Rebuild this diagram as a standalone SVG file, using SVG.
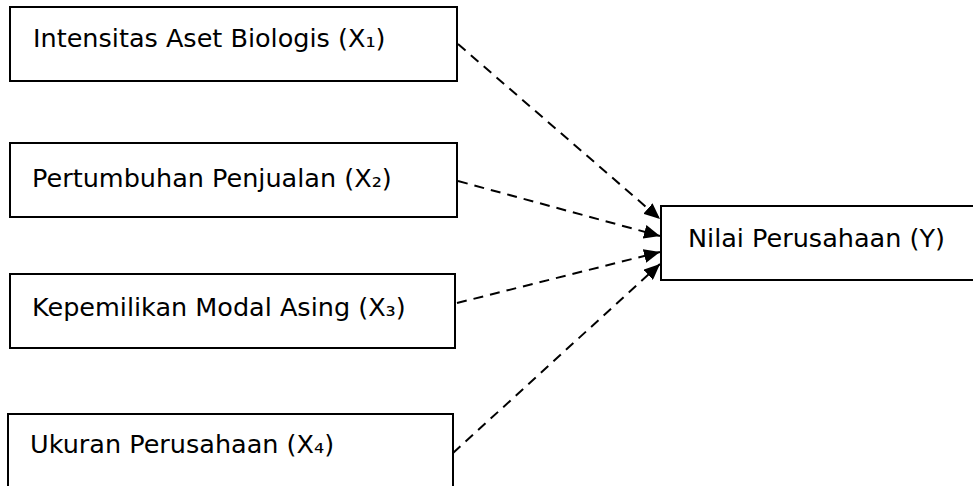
<svg xmlns="http://www.w3.org/2000/svg" width="973" height="486" viewBox="0 0 973 486">
<style>
.box{fill:#fff;stroke:#000;stroke-width:2}
.lbl{font-family:"DejaVu Sans",sans-serif;font-size:25.5px;fill:#000}
.edge{stroke:#000;stroke-width:2;stroke-dasharray:10 7;fill:none;marker-end:url(#arr)}
</style>
<defs>
<marker id="arr" viewBox="0 0 16 14" refX="16" refY="7" markerWidth="16" markerHeight="14" markerUnits="userSpaceOnUse" orient="auto">
<path d="M0,0 L16,7 L0,14 Z" fill="#000"/>
</marker>
</defs>
<rect width="973" height="486" fill="#fff"/>
<g id="connectors">
<line class="edge" x1="458" y1="44" x2="660" y2="219"/>
<line class="edge" x1="458" y1="181" x2="660" y2="236"/>
<line class="edge" x1="457" y1="303" x2="660" y2="252"/>
<line class="edge" x1="453" y1="453" x2="660" y2="264"/>
</g>
<g id="x1">
<rect class="box" x="10" y="7" width="447" height="74"/>
<text class="lbl" x="33" y="47">Intensitas Aset Biologis (X₁)</text>
</g>
<g id="x2">
<rect class="box" x="10" y="143" width="447" height="74"/>
<text class="lbl" x="32" y="187">Pertumbuhan Penjualan (X₂)</text>
</g>
<g id="x3">
<rect class="box" x="10" y="274" width="445" height="74"/>
<text class="lbl" x="32" y="316">Kepemilikan Modal Asing (X₃)</text>
</g>
<g id="x4">
<rect class="box" x="8" y="414" width="445" height="90"/>
<text class="lbl" x="30" y="453">Ukuran Perusahaan (X₄)</text>
</g>
<g id="y">
<rect class="box" x="661" y="206" width="330" height="74"/>
<text class="lbl" x="688" y="247">Nilai Perusahaan (Y)</text>
</g>
</svg>
